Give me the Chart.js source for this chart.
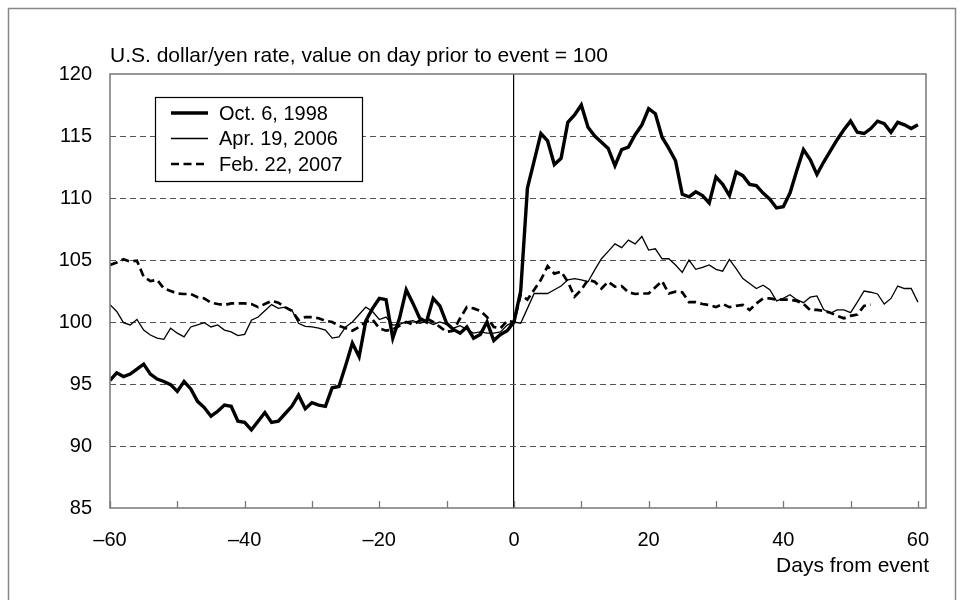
<!DOCTYPE html>
<html><head><meta charset="utf-8">
<script src="https://cdn.jsdelivr.net/npm/chart.js@4.4.1/dist/chart.umd.min.js"></script>
<style>html,body{margin:0;padding:0;background:#fff}#wrap{width:964px;height:600px;position:relative}</style>
</head><body><div id="wrap"><canvas id="c" width="964" height="600"></canvas></div>
<script>
const days = [-60,-59,-58,-57,-56,-55,-54,-53,-52,-51,-50,-49,-48,-47,-46,-45,-44,-43,-42,-41,-40,-39,-38,-37,-36,-35,-34,-33,-32,-31,-30,-29,-28,-27,-26,-25,-24,-23,-22,-21,-20,-19,-18,-17,-16,-15,-14,-13,-12,-11,-10,-9,-8,-7,-6,-5,-4,-3,-2,-1,0,1,2,3,4,5,6,7,8,9,10,11,12,13,14,15,16,17,18,19,20,21,22,23,24,25,26,27,28,29,30,31,32,33,34,35,36,37,38,39,40,41,42,43,44,45,46,47,48,49,50,51,52,53,54,55,56,57,58,59,60];
const oct1998 = [95.3,95.9,95.6,95.8,96.2,96.6,95.8,95.4,95.2,94.95,
  94.4,95.2,94.6,93.6,93.1,92.4,92.8,93.3,93.2,92.0,
  91.9,91.3,92.0,92.7,91.9,92.0,92.6,93.2,94.1,93.0,
  93.5,93.3,93.2,94.7,94.8,96.5,98.3,97.2,100.1,101.1,
  101.9,101.8,98.7,100.3,102.6,101.5,100.3,100.0,101.9,101.3,
  99.9,99.4,99.1,99.6,98.7,99.0,100.0,98.5,99.0,99.3,
  100.0,
  102.5,110.8,113.0,115.2,114.6,112.7,113.2,116.1,116.7,117.5,
  115.7,115.0,114.5,114.0,112.6,113.9,114.1,115.1,115.9,117.2,
  116.8,114.9,114.0,113.0,110.3,110.1,110.5,110.2,109.6,111.7,
  111.1,110.2,112.1,111.8,111.1,111.0,110.4,109.9,109.2,109.3,
  110.4,112.2,113.9,113.1,111.9,112.9,113.8,114.7,115.5,116.2,
  115.3,115.2,115.6,116.2,116.0,115.3,116.1,115.9,115.6,115.9];
const apr2006 = [101.4,100.85,99.95,99.76,100.2,99.35,98.95,98.7,98.6,99.5,
  99.1,98.8,99.6,99.76,99.95,99.6,99.76,99.35,99.2,98.9,
  99.0,100.15,100.4,100.9,101.4,101.1,101.2,100.97,99.9,99.65,
  99.6,99.5,99.35,98.7,98.8,99.6,100.0,100.6,101.2,100.85,
  100.2,100.4,99.75,99.8,100.0,100.1,99.9,100.05,99.8,100.0,
  99.8,99.5,99.7,99.4,99.1,99.2,99.1,99.1,99.2,99.75,
  100.0,
  99.9,101.1,102.3,102.3,102.3,102.6,102.9,103.4,103.5,103.4,
  103.25,104.2,105.1,105.7,106.3,106.0,106.6,106.3,106.9,105.8,
  105.9,105.1,105.1,104.6,104.0,105.0,104.25,104.4,104.6,104.25,
  104.1,105.05,104.3,103.5,103.1,102.7,102.97,102.6,101.7,101.9,
  102.2,101.8,101.56,102.0,102.1,101.0,100.7,100.97,100.97,100.75,
  101.6,102.5,102.4,102.26,101.45,101.9,102.9,102.7,102.7,101.6];
const feb2007 = [104.6,104.8,105.06,104.87,104.95,103.65,103.3,103.4,102.7,102.5,
  102.3,102.26,102.26,102.0,101.9,101.56,101.45,101.37,101.5,101.5,
  101.5,101.45,101.2,101.45,101.7,101.56,101.2,100.9,100.16,100.4,
  100.4,100.3,100.1,100.0,99.7,99.5,99.3,99.6,100.0,100.2,
  99.5,99.3,99.4,99.7,100.0,99.8,100.1,100.3,100.0,99.6,
  99.2,99.3,100.3,101.2,101.1,100.9,100.4,99.6,99.5,100.1,
  100.0,
  102.2,101.8,102.6,103.4,104.5,103.9,104.06,103.25,102.04,102.6,
  103.4,103.25,102.7,103.25,102.85,102.9,102.4,102.26,102.3,102.3,
  102.8,103.3,102.3,102.45,102.4,101.6,101.6,101.45,101.37,101.2,
  101.45,101.2,101.3,101.37,100.97,101.5,101.9,101.9,101.8,101.8,
  101.8,101.7,101.45,100.97,100.97,100.9,100.75,100.5,100.3,100.5,
  100.6,101.3,101.4,null,null,null,null,null,null,null];
const seriesLabels = ["Oct. 6, 1998", "Apr. 19, 2006", "Feb. 22, 2007"];
const xTickValues = [-60,-50,-40,-30,-20,-10,0,10,20,30,40,50,60];
const xLabelValues = [-60,-40,-20,0,20,40,60];
const yTickValues = [85,90,95,100,105,110,115,120];
const titleText = "U.S. dollar/yen rate, value on day prior to event = 100";
const xAxisText = "Days from event";

const FONT = '"Liberation Sans", Arial, Helvetica, sans-serif';

function pts(vals){ return days.map((d,i)=>({x:d,y:vals[i]})); }

const decor = {
  id:'decor',
  beforeDraw(chart){
    const c = chart.ctx;
    c.save();
    c.fillStyle = '#fff';
    c.fillRect(0,0,chart.width,chart.height);
    c.strokeStyle = '#888';
    c.lineWidth = 1.5;
    c.strokeRect(8.5,8.5,947,620);
    c.restore();
  },
  afterDatasetsDraw(chart){
    const c = chart.ctx, a = chart.chartArea, xs = chart.scales.x;
    c.save();
    c.strokeStyle = '#777';
    c.lineWidth = 1.5;
    c.strokeRect(a.left, a.top, a.right-a.left, a.bottom-a.top);
    c.lineWidth = 1.3;
    xTickValues.forEach(v=>{
      const px = Math.round(xs.getPixelForValue(v))+0.5;
      c.beginPath(); c.moveTo(px,a.bottom); c.lineTo(px,a.bottom-7); c.stroke();
    });
    c.fillStyle = '#000';
    c.font = '21px ' + FONT;
    c.textBaseline = 'alphabetic';
    c.textAlign = 'left';
    c.fillText(titleText, a.left, a.top - 12);
    c.textAlign = 'right';
    c.fillText(xAxisText, a.right + 3, a.bottom + 64);
    c.font = '20px ' + FONT;
    const lx = a.left + 45, ly = a.top + 23, lw = 207, lh = 84;
    c.fillStyle = '#fff';
    c.fillRect(lx, ly, lw, lh);
    c.strokeStyle = '#000'; c.lineWidth = 1.2;
    c.strokeRect(lx+0.5, ly+0.5, lw, lh);
    chart.data.datasets.forEach((ds,i)=>{
      const yy = ly + 16 + i*25.5;
      c.strokeStyle = ds.borderColor;
      c.lineWidth = ds.borderWidth;
      c.setLineDash(ds.borderDash || []);
      c.beginPath(); c.moveTo(lx+16, yy); c.lineTo(lx+53, yy); c.stroke();
      c.setLineDash([]);
      c.fillStyle = '#000';
      c.textAlign = 'left'; c.textBaseline = 'middle';
      c.fillText(ds.label, lx+64, yy+1);
    });
    c.restore();
  }
};

new Chart(document.getElementById('c'), {
  type: 'line',
  data: {
    datasets: [
      {label: seriesLabels[0], data: pts(oct1998), borderColor:'#000', borderWidth:3.4, pointRadius:0, tension:0, fill:false},
      {label: seriesLabels[1], data: pts(apr2006), borderColor:'#000', borderWidth:1.3, pointRadius:0, tension:0, fill:false},
      {label: seriesLabels[2], data: pts(feb2007), borderColor:'#000', borderWidth:2.7, borderDash:[8,4.5], pointRadius:0, tension:0, fill:false, spanGaps:false}
    ]
  },
  options: {
    responsive: false,
    animation: false,
    devicePixelRatio: 1,
    layout: {padding: {left: 0, top: 74, right: 38, bottom: 0}},
    plugins: {legend:{display:false}, tooltip:{enabled:false}, title:{display:false}},
    scales: {
      x: {
        type: 'linear', min: -60, max: 61.2,
        afterBuildTicks: s => { s.ticks = xTickValues.map(v=>({value:v})); },
        afterFit: s => { s.height = 92; },
        grid: {drawTicks:false, color: ctx => (ctx.tick && ctx.tick.value === 0) ? '#000' : 'rgba(0,0,0,0)', lineWidth: 1.2},
        border: {display:false},
        ticks: {
          padding: 20, color:'#000', font:{family:FONT, size:20}, maxRotation:0, autoSkip:false,
          callback: v => xLabelValues.includes(v) ? (v < 0 ? '\u2013' + Math.abs(v) : String(v)) : ''
        }
      },
      y: {
        type: 'linear', min: 85, max: 120,
        afterBuildTicks: s => { s.ticks = yTickValues.map(v=>({value:v})); },
        afterFit: s => { s.width = 110; },
        grid: {drawTicks:false, color: ctx => (ctx.tick && (ctx.tick.value === 85 || ctx.tick.value === 120)) ? 'rgba(0,0,0,0)' : '#555', lineWidth: 1},
        border: {display:false, dash:[6,4]},
        ticks: {padding: 18, color:'#000', font:{family:FONT, size:20}}
      }
    }
  },
  plugins: [decor]
});
</script></body></html>
